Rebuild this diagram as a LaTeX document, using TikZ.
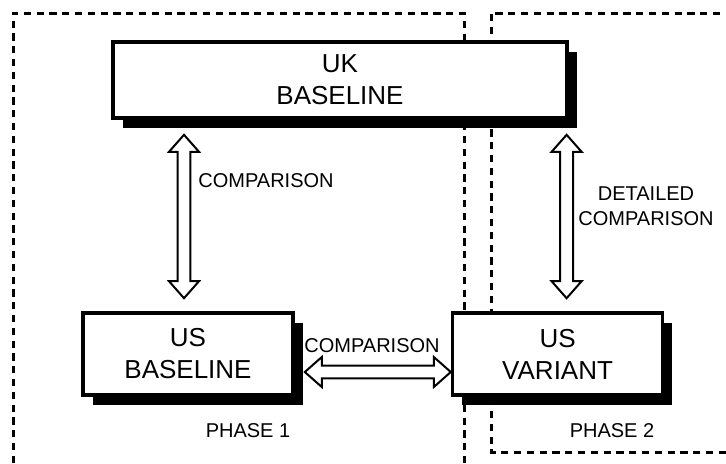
\documentclass[tikz,border=0pt]{standalone}
\usepackage{fontspec}
\setmainfont{Liberation Sans}
\usetikzlibrary{calc,shadows,positioning}

\newcommand{\tiplen}{8.5pt}
\newcommand{\tiphalf}{7.5pt}
\newcommand{\shafthalf}{3.2pt}

\begin{document}
\begin{tikzpicture}
	[x=0.5pt,y=-0.5pt,
		box node/.style={draw,line width=1.8pt,fill=white,align=center,font=\fontsize{13}{16}\selectfont,
			drop shadow={shadow xshift=4.8pt,shadow yshift=-4.8pt,fill=black,opacity=1}},
		text node/.style={font=\fontsize{10}{12.5}\selectfont,align=center,inner sep=0pt},
		phase line/.style={line width=1.5pt,dash pattern=on 3.6pt off 2.8pt},
		both arrow/.style={draw,line width=1pt,fill=white,line join=miter,
			to path={let \p1=(\tikztostart),\p2=(\tikztotarget),\n1={atan2(\y2-\y1,\x2-\x1)} in
				(\p1) -- ($(\p1)+(\n1:\tiplen)+(\n1+90:\tiphalf)$)
				-- ($(\p1)+(\n1:\tiplen)+(\n1+90:\shafthalf)$)
				-- ($(\p2)+(\n1+180:\tiplen)+(\n1+90:\shafthalf)$)
				-- ($(\p2)+(\n1+180:\tiplen)+(\n1+90:\tiphalf)$)
				-- (\p2)
				-- ($(\p2)+(\n1+180:\tiplen)+(\n1-90:\tiphalf)$)
				-- ($(\p2)+(\n1+180:\tiplen)+(\n1-90:\shafthalf)$)
				-- ($(\p1)+(\n1:\tiplen)+(\n1-90:\shafthalf)$)
				-- ($(\p1)+(\n1:\tiplen)+(\n1-90:\tiphalf)$) -- cycle}}]

	\useasboundingbox (0,0) rectangle (726,463);

	\draw[phase line] (13,463) -- (13,13) -- (464,13) -- (464,463);
	\draw[phase line] (726,452) -- (491,452) -- (491,13) -- (726,13);

	\node[box node,minimum width=227pt,minimum height=38pt] (uk) at (340,80) {UK\\BASELINE};
	\node[box node,minimum width=105pt,minimum height=41pt] (usbase) at (188,354) {US\\BASELINE};
	\node[box node,minimum width=105pt,minimum height=41pt,right=78pt of usbase] (usvar) {US\\VARIANT};

	\draw[both arrow] ($(usbase.north |- uk.south)+(-2pt,-7.5pt)$) to ($(usbase.north)+(-2pt,6.5pt)$);
	\draw[both arrow] ($(usvar.north |- uk.south)+(4.5pt,-7.5pt)$) to ($(usvar.north)+(4.5pt,6.5pt)$);
	\draw[both arrow] ($(usbase.east)+(5pt,-9pt)$) to ($(usvar.west)+(0,-9pt)$);

	\node[text node,anchor=west] (cmpleft) at (198,181) {COMPARISON};
	\node[text node] (cmpmid) at (372,346) {COMPARISON};
	\node[text node] (cmpright) at (646,206) {DETAILED\\COMPARISON};
	\node[text node] (phaseone) at (248,431) {PHASE 1};
	\node[text node] (phasetwo) at (612,431) {PHASE 2};
\end{tikzpicture}
\end{document}
